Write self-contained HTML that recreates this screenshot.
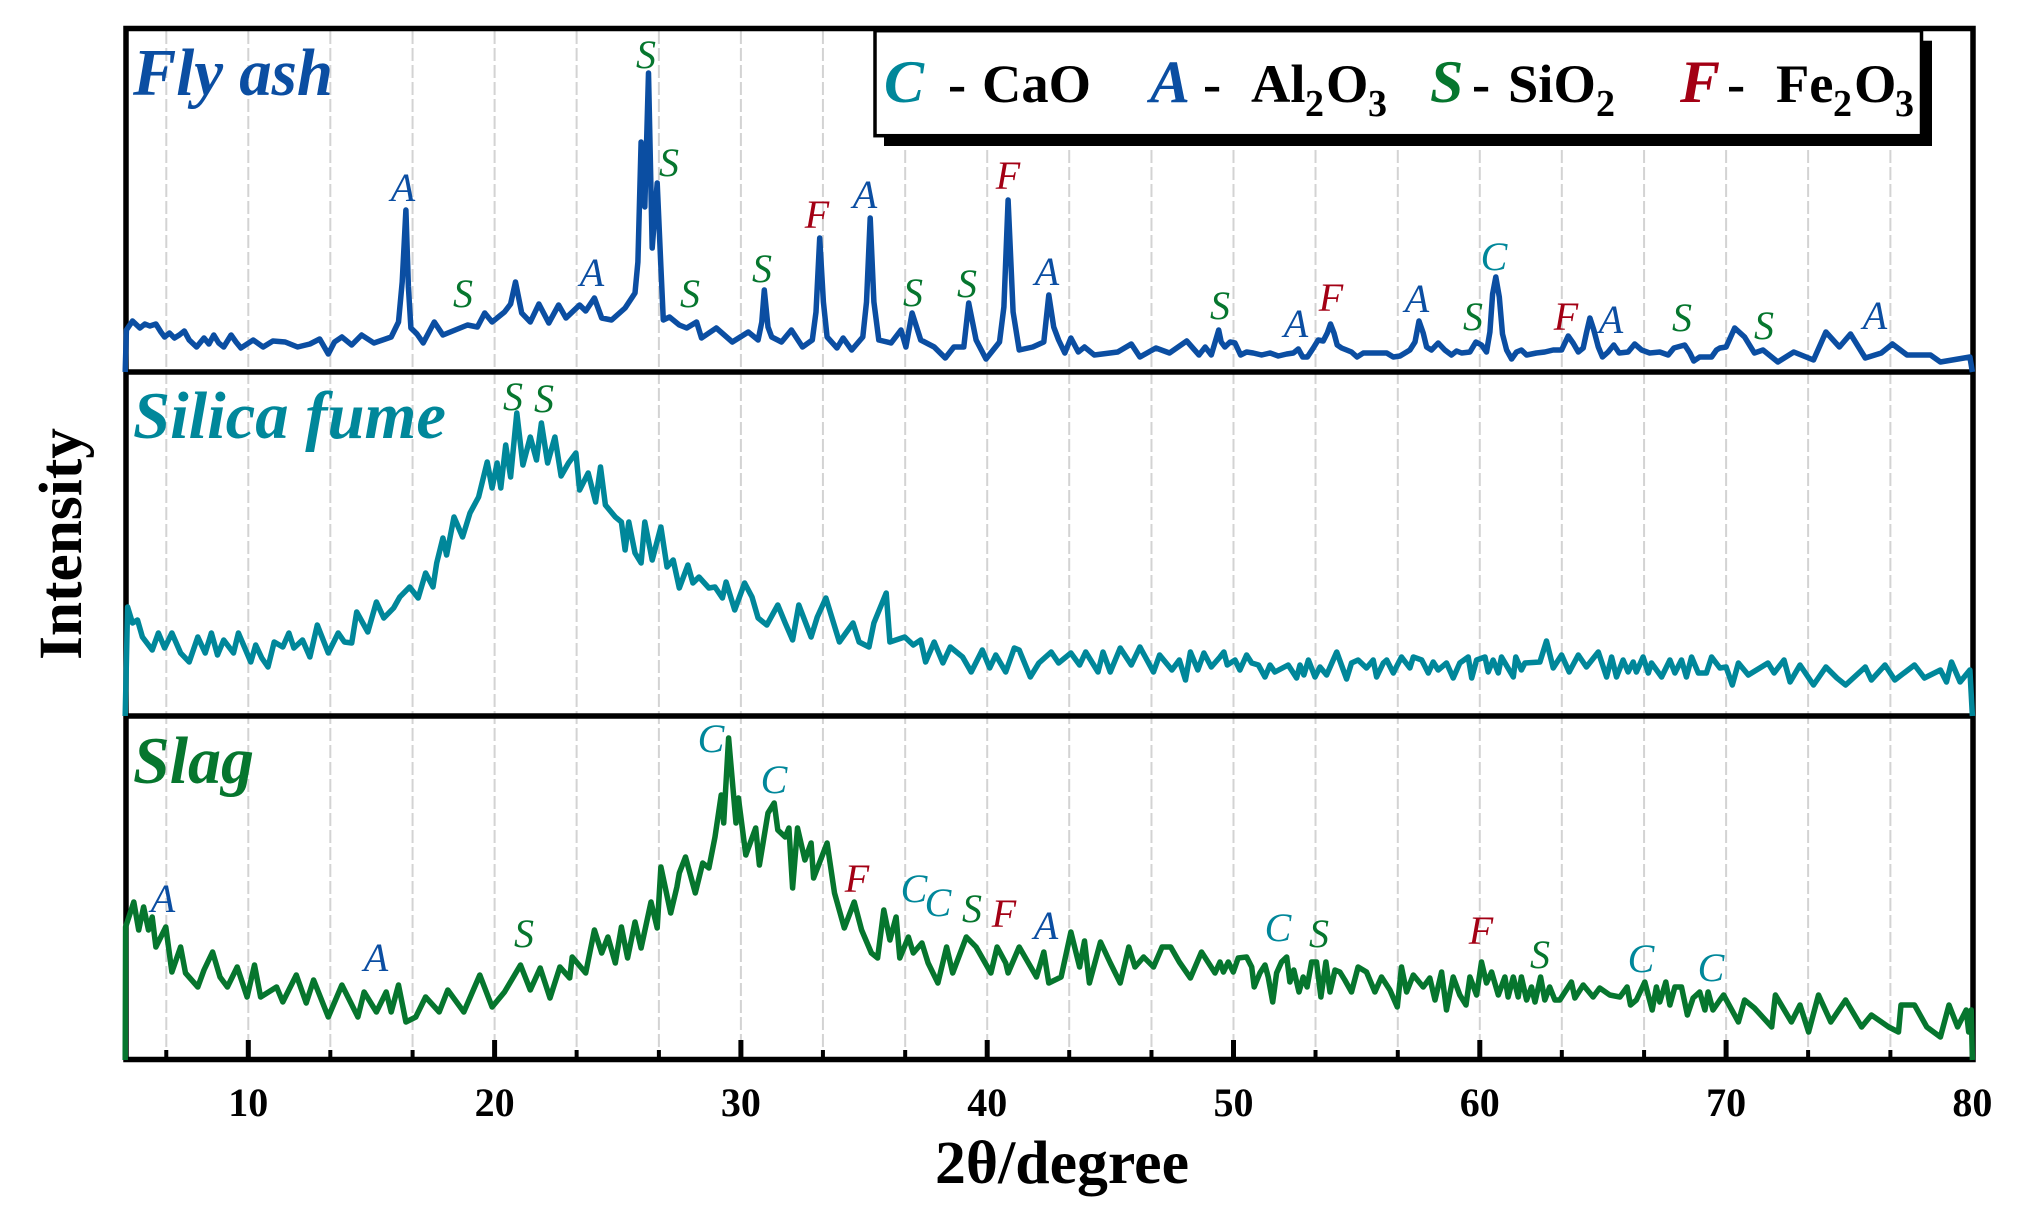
<!DOCTYPE html>
<html lang="en">
<head>
<meta charset="utf-8">
<title>XRD patterns of fly ash, silica fume and slag</title>
<style>
html,body{margin:0;padding:0;background:#fff;}
svg{display:block;}
text{font-family:"Liberation Serif","DejaVu Serif",serif;}
.pk{font-style:italic;font-size:40px;text-anchor:middle;}
.b{fill:#0b4ea2}.t{fill:#00879a}.g{fill:#06762e}.r{fill:#a30014}
.leg{font-weight:bold;font-size:54.5px;fill:#000;}
.legk{font-weight:bold;font-style:italic;font-size:60px;}
.sub{font-size:38px;}
.title{font-weight:bold;font-style:italic;font-size:67px;}
.tick{font-weight:bold;font-size:40px;text-anchor:middle;fill:#000;}
</style>
</head>
<body>
<svg id="chart" xmlns="http://www.w3.org/2000/svg" width="2040" height="1217" viewBox="0 0 2040 1217">
  <rect x="0" y="0" width="2040" height="1217" fill="#fff"/>
  <g id="grid"></g>
  <g id="ticks"></g>
  <g fill="none" stroke="#000" stroke-width="5.5">
    <rect x="126" y="28.5" width="1847" height="1031"/>
    <line x1="126" x2="1973" y1="372" y2="372"/>
    <line x1="126" x2="1973" y1="716" y2="716"/>
  </g>
  <g id="series"></g>
  <g id="xlabels"></g>

  <text x="1062" y="1183" text-anchor="middle" font-weight="bold" font-size="61" textLength="254" lengthAdjust="spacingAndGlyphs">2θ/degree</text>
  <text transform="translate(81,544) rotate(-90)" text-anchor="middle" font-weight="bold" font-size="61" textLength="232" lengthAdjust="spacingAndGlyphs">Intensity</text>

  <text class="title b" x="133" y="95" textLength="200" lengthAdjust="spacingAndGlyphs">Fly ash</text>
  <text class="title t" x="133" y="438" textLength="313" lengthAdjust="spacingAndGlyphs">Silica fume</text>
  <text class="title g" x="133" y="783" textLength="121" lengthAdjust="spacingAndGlyphs">Slag</text>

  <g>
    <text class="pk b" x="403" y="201">A</text>
    <text class="pk g" x="463" y="307">S</text>
    <text class="pk b" x="592" y="286">A</text>
    <text class="pk g" x="646" y="68">S</text>
    <text class="pk g" x="669" y="176">S</text>
    <text class="pk g" x="690" y="307">S</text>
    <text class="pk g" x="762" y="282">S</text>
    <text class="pk r" x="817" y="228">F</text>
    <text class="pk b" x="865" y="208">A</text>
    <text class="pk g" x="913" y="306">S</text>
    <text class="pk g" x="967" y="297">S</text>
    <text class="pk r" x="1008" y="189">F</text>
    <text class="pk b" x="1047" y="285">A</text>
    <text class="pk g" x="1220" y="319">S</text>
    <text class="pk b" x="1296" y="337">A</text>
    <text class="pk r" x="1331" y="311">F</text>
    <text class="pk b" x="1417" y="312">A</text>
    <text class="pk g" x="1473" y="330">S</text>
    <text class="pk t" x="1494" y="270">C</text>
    <text class="pk r" x="1566" y="330">F</text>
    <text class="pk b" x="1611" y="333">A</text>
    <text class="pk g" x="1682" y="331">S</text>
    <text class="pk g" x="1764" y="339">S</text>
    <text class="pk b" x="1875" y="329">A</text>
  </g>
  <g>
    <text class="pk g" x="513" y="410">S</text>
    <text class="pk g" x="544" y="412">S</text>
  </g>
  <g>
    <text class="pk b" x="163" y="912">A</text>
    <text class="pk b" x="376" y="971">A</text>
    <text class="pk g" x="524" y="947">S</text>
    <text class="pk t" x="711" y="752">C</text>
    <text class="pk t" x="774" y="793">C</text>
    <text class="pk r" x="857" y="892">F</text>
    <text class="pk t" x="914" y="902">C</text>
    <text class="pk t" x="938" y="916">C</text>
    <text class="pk g" x="972" y="922">S</text>
    <text class="pk r" x="1004" y="927">F</text>
    <text class="pk b" x="1046" y="939">A</text>
    <text class="pk t" x="1278" y="941">C</text>
    <text class="pk g" x="1319" y="947">S</text>
    <text class="pk r" x="1481" y="944">F</text>
    <text class="pk g" x="1540" y="968">S</text>
    <text class="pk t" x="1641" y="972">C</text>
    <text class="pk t" x="1711" y="981">C</text>
  </g>

  <g>
    <rect x="884" y="40.7" width="1048" height="105.3" fill="#000"/>
    <rect x="875" y="30.7" width="1046.5" height="105" fill="#fff" stroke="#000" stroke-width="3.5"/>
    <g>
      <text class="legk t" x="884" y="102">C</text>
      <text class="leg" y="102"><tspan x="948">-</tspan><tspan x="982">CaO</tspan></text>
    </g>
    <g>
      <text class="legk b" x="1150" y="102">A</text>
      <text class="leg" y="102"><tspan x="1203">-</tspan><tspan x="1251">Al</tspan><tspan class="sub" x="1305" y="116">2</tspan><tspan x="1326" y="102">O</tspan><tspan class="sub" x="1368" y="116">3</tspan></text>
    </g>
    <g>
      <text class="legk g" x="1430" y="102">S</text>
      <text class="leg" y="102"><tspan x="1472">-</tspan><tspan x="1508">SiO</tspan><tspan class="sub" x="1596" y="116">2</tspan></text>
    </g>
    <g>
      <text class="legk r" x="1680" y="102">F</text>
      <text class="leg" y="102"><tspan x="1727">-</tspan><tspan x="1776">Fe</tspan><tspan class="sub" x="1833" y="116">2</tspan><tspan x="1854" y="102">O</tspan><tspan class="sub" x="1895" y="116">3</tspan></text>
    </g>
  </g>
</svg>
<script>
const majorTicks = [10,20,30,40,50,60,70,80];
const majorTickLabels = ["10","20","30","40","50","60","70","80"];
const minorTicks = [6.67,13.33,16.67,23.33,26.67,33.33,36.67,43.33,46.67,53.33,56.67,63.33,66.67,73.33,76.67];

const flyAshTheta = [
5,5.05,5.3,5.6,5.8,6,6.25,6.45,6.6,6.8,
7,7.2,7.4,7.6,7.9,8.2,8.4,8.6,8.8,9,
9.3,9.5,9.7,10.2,10.6,11,11.5,12,12.5,12.9,
13.25,13.5,13.8,14.2,14.6,15.1,15.8,16.1,16.25,16.4,
16.5,16.6,16.85,17.1,17.55,17.9,18.4,18.9,19.3,19.6,
19.9,20.4,20.65,20.85,21.1,21.45,21.8,22.2,22.6,22.9,
23.45,23.7,24.05,24.35,24.75,25.3,25.7,25.82,25.95,26.1,
26.25,26.4,26.6,26.75,26.85,27.1,27.5,27.8,28.2,28.4,
29,29.65,30.3,30.7,30.85,30.95,31.1,31.25,31.65,32.05,
32.5,32.9,33.05,33.2,33.35,33.5,33.9,34.15,34.5,34.95,
35.1,35.25,35.4,35.6,36.1,36.5,36.7,36.95,37.3,37.85,
38.3,38.65,39.05,39.25,39.55,39.95,40.5,40.68,40.85,41.05,
41.3,41.85,42.3,42.5,42.7,42.9,43.15,43.4,43.7,43.95,
44.35,45.3,45.85,46.2,46.85,47.4,48.1,48.6,48.85,49.1,
49.4,49.5,49.65,49.86,50.06,50.29,50.53,50.8,51.14,51.48,
51.82,52.16,52.43,52.63,52.81,53,53.24,53.44,53.64,53.81,
53.94,54.08,54.21,54.39,54.59,54.79,55.02,55.27,55.67,55.94,
56.22,56.49,56.76,57.16,57.37,57.53,57.7,57.84,58.04,58.31,
58.58,58.85,59.06,59.26,59.6,59.84,60.07,60.27,60.41,60.52,
60.65,60.79,60.92,61.09,61.29,61.49,61.69,61.9,62.3,62.64,
62.98,63.32,63.59,63.79,64,64.2,64.33,64.47,64.63,64.81,
64.98,65.21,65.44,65.66,66.02,66.29,66.57,66.9,67.31,67.65,
67.88,68.32,68.53,68.69,68.93,69.41,69.61,69.75,70,70.35,
70.75,71.15,71.5,72.1,72.75,73.55,74.05,74.6,75.05,75.65,
76.3,76.75,77.35,78.3,78.7,79.9,80];
const flyAshIntensity = [
0,42,51,44,48,46,48,40,35,39,
34,37,41,32,25,34,28,37,29,25,
37,30,24,32,25,31,30,25,28,33,
18,30,35,27,37,29,35,50,90,162,
85,44,38,29,50,37,42,47,45,59,
50,60,68,90,59,50,68,49,67,54,
67,61,74,54,52,64,79,110,230,165,
299,124,189,105,52,55,47,44,50,34,
44,30,40,32,50,82,45,35,30,42,
25,32,60,134,70,35,24,34,22,35,
70,154,70,32,29,42,25,59,32,25,
14,25,25,69,32,13,30,65,172,60,
22,25,30,77,45,32,19,34,20,25,
17,20,28,15,24,19,31,17,25,17,
42,30,25,30,29,17,20,19,17,19,
16,18,19,23,15,15,24,32,31,39,
48,39,27,24,22,20,15,19,19,19,
19,15,16,22,30,51,39,25,22,29,
22,17,21,19,20,30,27,20,40,78,
95,75,38,22,13,20,22,17,19,20,
22,22,36,29,20,24,39,54,42,25,
15,20,27,19,20,28,22,19,20,17,
24,27,19,11,15,15,22,24,25,44,
35,19,22,10,20,12,40,25,38,14,
19,28,17,17,10,15,0];

const silicaFumeTheta = [
5,5.1,5.3,5.5,5.7,6.1,6.35,6.6,6.9,7.25,
7.6,7.95,8.25,8.5,8.75,9,9.4,9.6,10.1,10.3,
10.55,10.8,11.05,11.4,11.65,11.85,12.2,12.5,12.8,13.25,
13.65,13.9,14.2,14.4,14.85,15.2,15.5,15.9,16.15,16.55,
16.9,17.2,17.5,17.65,17.9,18.05,18.35,18.7,19,19.35,
19.7,19.9,20.1,20.25,20.45,20.65,20.9,21.15,21.45,21.7,
21.9,22.15,22.45,22.7,23,23.3,23.45,23.8,24.1,24.3,
24.5,24.9,25.15,25.3,25.45,25.7,25.95,26.1,26.4,26.75,
27,27.25,27.5,27.85,28.05,28.3,28.7,28.95,29.25,29.4,
29.75,30.15,30.45,30.7,31.05,31.5,31.8,32.1,32.35,32.85,
33.1,33.45,34,34.55,34.8,35.2,35.4,35.9,36.05,36.65,
37,37.3,37.5,37.85,38.2,38.5,39,39.35,39.8,40.1,
40.35,40.75,41.1,41.3,41.75,42.1,42.6,42.9,43.4,43.75,
44,44.5,44.7,45,45.4,45.85,46.2,46.75,47,47.5,
47.8,48.05,48.25,48.55,48.8,49.1,49.45,49.61,49.75,50.06,
50.26,50.53,50.74,51.01,51.28,51.48,51.68,52.22,52.56,52.7,
52.86,53.04,53.31,53.51,53.78,54.19,54.59,54.79,55.06,55.4,
55.67,55.81,56.08,56.22,56.49,56.82,57.16,57.3,57.64,57.91,
58.11,58.31,58.65,58.92,59.19,59.53,59.67,59.87,60.21,60.34,
60.54,60.75,60.88,61.36,61.46,61.69,61.83,62.44,62.71,62.98,
63.32,63.63,64,64.33,64.81,65.15,65.35,65.55,65.82,66.02,
66.23,66.36,66.63,66.84,66.97,67.38,67.72,67.92,68.19,68.39,
68.6,68.87,69.2,69.41,69.75,70,70.25,70.5,70.9,71.7,
71.95,72.35,72.6,73,73.55,74.05,74.5,74.85,75.65,75.9,
76.45,76.85,77.65,78.05,78.7,78.95,79.15,79.5,79.9,80];
const silicaFumeIntensity = [
0,109,93,96,79,66,83,68,83,63,
54,79,63,83,61,76,63,83,54,71,
58,49,74,69,83,68,76,59,91,63,
83,74,73,104,84,114,98,108,119,129,
118,143,129,153,178,161,199,179,203,219,
254,228,253,228,271,239,303,251,279,256,
293,253,279,240,253,263,226,243,214,249,
211,199,194,166,194,163,153,194,156,189,
149,156,128,151,133,139,128,129,118,134,
106,133,119,98,91,111,93,76,111,79,
99,118,74,93,74,69,93,123,74,79,
71,76,54,74,53,69,59,44,66,48,
61,44,68,66,39,53,64,53,63,51,
64,44,64,44,68,51,69,44,61,46,
56,36,64,46,63,49,59,64,51,56,
46,61,53,51,39,51,44,51,38,51,
41,56,39,49,41,64,37,53,56,48,
56,39,53,56,43,59,48,59,56,43,
54,46,53,38,53,59,38,56,59,44,
56,43,59,39,59,46,53,54,75,48,
61,44,61,49,64,39,59,39,56,44,
54,44,59,43,53,39,56,43,56,39,
59,43,43,59,48,49,31,53,41,53,
43,56,34,51,31,49,38,31,49,36,
51,36,51,38,46,34,54,34,46,0];

const slagTheta = [
5,5.02,5.35,5.55,5.75,5.95,6.1,6.25,6.65,6.9,
7.25,7.45,7.95,8.2,8.55,8.85,9.15,9.55,9.95,10.25,
10.5,11.15,11.4,11.95,12.35,12.65,13.25,13.8,14.45,14.7,
15.2,15.6,15.8,16.1,16.4,16.8,17.2,17.75,18.1,18.75,
19.4,19.9,20.4,21.05,21.45,21.85,22.25,22.65,23.05,23.15,
23.7,24.05,24.35,24.6,24.9,25.15,25.4,25.7,25.95,26.35,
26.6,26.75,27.15,27.4,27.5,27.75,28.15,28.45,28.7,28.95,
29.2,29.3,29.5,29.8,29.9,30.2,30.6,30.75,31.1,31.35,
31.5,31.8,31.95,32.1,32.3,32.6,32.85,32.95,33.5,33.8,
34.2,34.6,34.9,35.3,35.55,35.8,36.05,36.3,36.45,36.8,
37,37.35,37.6,38,38.35,38.6,39.15,39.55,40.15,40.4,
40.75,40.85,41.3,42,42.3,42.5,43,43.4,43.75,43.95,
44.15,44.6,45,45.4,45.75,46,46.35,46.75,47.1,47.45,
47.8,48.25,48.7,49.25,49.45,49.59,49.79,49.99,50.19,50.53,
50.74,50.84,51.07,51.28,51.41,51.59,51.75,51.95,52.16,52.29,
52.45,52.66,52.83,52.99,53.17,53.37,53.55,53.75,53.92,54.12,
54.32,54.52,54.79,55.06,55.4,55.74,56.01,56.35,56.65,56.82,
57.03,57.3,57.7,57.97,58.18,58.45,58.65,58.92,59.19,59.44,
59.6,59.87,60.07,60.27,60.48,60.75,61.02,61.15,61.36,61.56,
61.69,61.9,62.1,62.24,62.47,62.64,62.84,63.05,63.25,63.72,
63.86,64.2,64.6,64.87,65.28,65.69,65.98,66.12,66.36,66.7,
67,67.17,67.31,67.55,67.72,67.92,68.19,68.43,68.66,68.93,
69.14,69.27,69.47,69.75,69.9,70.5,70.75,71.15,71.85,72,
72.65,73,73.35,73.75,74.25,74.85,75.5,75.9,76.6,77,
77.1,77.65,78.15,78.7,79.05,79.4,79.75,79.85,79.95,80];
const slagIntensity = [
0,133,158,130,153,130,143,113,133,88,
113,87,73,90,108,83,73,93,63,95,
63,73,58,85,57,80,43,75,43,68,
48,68,48,75,38,43,63,48,70,48,
85,53,68,95,70,92,62,93,82,103,
87,130,107,123,97,133,102,138,112,158,
132,193,147,173,187,203,167,197,192,223,
265,237,322,237,262,205,232,195,247,257,
230,223,232,172,232,200,217,182,217,167,
132,158,130,107,102,150,120,143,102,123,
107,117,97,77,113,87,123,113,87,113,
97,87,113,83,108,77,83,128,93,119,
77,118,97,77,113,93,103,93,113,113,
98,82,108,87,98,88,98,88,102,103,
93,73,87,95,83,58,87,98,103,78,
90,68,83,73,98,98,63,98,68,90,
88,80,68,93,88,68,83,70,53,93,
68,85,73,82,60,88,50,83,65,55,
83,65,98,77,88,65,83,63,83,63,
83,60,73,58,83,60,73,60,60,78,
62,75,63,72,65,63,73,55,60,78,
50,73,58,78,55,73,73,45,62,68,
50,68,50,60,65,38,60,52,33,65,
38,55,28,65,38,60,33,45,33,28,
55,55,33,23,55,33,50,28,50,0];

const SVG_NS = 'http://www.w3.org/2000/svg';
const xLeftDeg = 10, xLeftPx = 248.3, pxPerDeg = 24.63;
const plotTop = 31, gridBottom = 1057, majorTop = 1040, minorTop = 1050, axisY = 1059;
const panelBottoms = { fly: 372, silica: 716, slag: 1060 };

function xScale(theta) {
  return xLeftPx + (theta - xLeftDeg) * pxPerDeg;
}
function yScale(panelBottom, value) {
  return panelBottom - value;
}
function makeLine(x1, y1, x2, y2, stroke, width) {
  const el = document.createElementNS(SVG_NS, 'line');
  el.setAttribute('x1', x1);
  el.setAttribute('x2', x2);
  el.setAttribute('y1', y1);
  el.setAttribute('y2', y2);
  el.setAttribute('stroke', stroke);
  el.setAttribute('stroke-width', width);
  return el;
}
function linePath(thetas, values, panelBottom) {
  let d = '';
  const n = Math.min(thetas.length, values.length);
  for (let i = 0; i < n; i++) {
    d += (i ? 'L' : 'M') + xScale(thetas[i]).toFixed(1) + ' ' + yScale(panelBottom, values[i]).toFixed(1);
  }
  return d;
}

const gridGroup = document.getElementById('grid');
const tickGroup = document.getElementById('ticks');
const labelGroup = document.getElementById('xlabels');
const seriesGroup = document.getElementById('series');

majorTicks.concat(minorTicks).forEach(function (t) {
  if (t >= 80) return;
  const grid = makeLine(xScale(t), plotTop, xScale(t), gridBottom, '#d3d3d3', 2);
  grid.setAttribute('stroke-dasharray', '13 4');
  
  
  gridGroup.appendChild(grid);
});
majorTicks.forEach(function (t, i) {
  const tick = makeLine(xScale(t), majorTop, xScale(t), axisY, '#000', 5);
  
  
  tickGroup.appendChild(tick);
  const label = document.createElementNS(SVG_NS, 'text');
  label.setAttribute('class', 'tick');
  label.setAttribute('x', xScale(t));
  label.setAttribute('y', 1116);
  label.textContent = majorTickLabels[i];
  
  
  labelGroup.appendChild(label);
});
minorTicks.forEach(function (t) {
  const tick = makeLine(xScale(t), minorTop, xScale(t), axisY, '#000', 4);
  
  
  tickGroup.appendChild(tick);
});

const flyPath = document.createElementNS(SVG_NS, 'path');
flyPath.setAttribute('d', linePath(flyAshTheta, flyAshIntensity, panelBottoms.fly));
flyPath.setAttribute('fill', 'none');
flyPath.setAttribute('stroke', '#0b4ea2');
flyPath.setAttribute('stroke-width', '5.5');
flyPath.setAttribute('stroke-linejoin', 'round');


seriesGroup.appendChild(flyPath);

const silicaPath = document.createElementNS(SVG_NS, 'path');
silicaPath.setAttribute('d', linePath(silicaFumeTheta, silicaFumeIntensity, panelBottoms.silica));
silicaPath.setAttribute('fill', 'none');
silicaPath.setAttribute('stroke', '#00879a');
silicaPath.setAttribute('stroke-width', '5.5');
silicaPath.setAttribute('stroke-linejoin', 'round');


seriesGroup.appendChild(silicaPath);

const slagPath = document.createElementNS(SVG_NS, 'path');
slagPath.setAttribute('d', linePath(slagTheta, slagIntensity, panelBottoms.slag));
slagPath.setAttribute('fill', 'none');
slagPath.setAttribute('stroke', '#06762e');
slagPath.setAttribute('stroke-width', '5.5');
slagPath.setAttribute('stroke-linejoin', 'round');


seriesGroup.appendChild(slagPath);
</script>
</body>
</html>
